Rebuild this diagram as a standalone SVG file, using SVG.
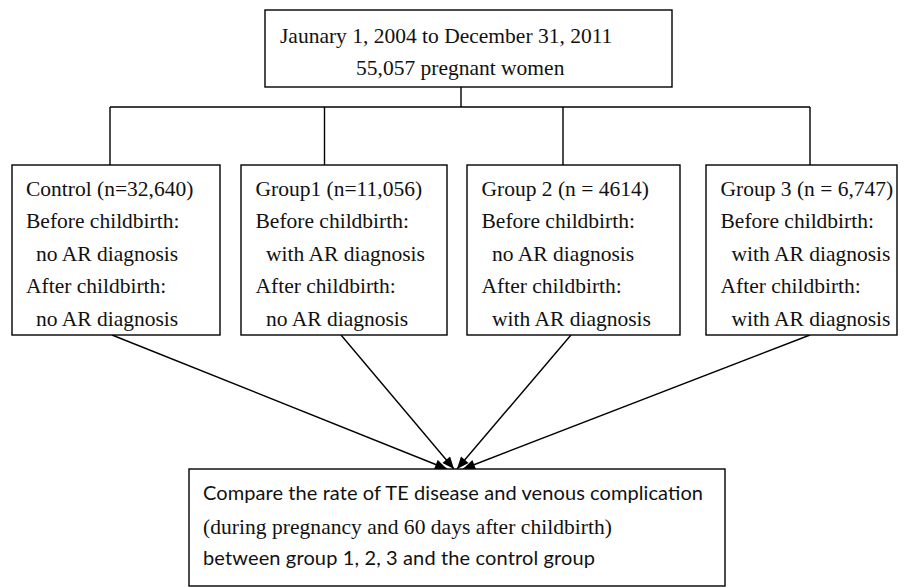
<svg xmlns="http://www.w3.org/2000/svg" width="907" height="587" viewBox="0 0 907 587">
<defs>
<style>
.box{fill:#fff;stroke:#000;stroke-width:1.4}
.ln{fill:none;stroke:#000;stroke-width:1.4}
.t{font-family:"Liberation Serif","Times New Roman",serif;font-size:21.5px;fill:#111}
.s{font-family:Lato,"Liberation Sans",sans-serif;font-size:20px;fill:#111}
</style>
<marker id="ah" viewBox="0 0 12 10" refX="12" refY="5" markerWidth="13" markerHeight="10" markerUnits="userSpaceOnUse" orient="auto">
<path d="M0,0 L12,5 L0,10 z" fill="#000"/>
</marker>
</defs>
<rect width="907" height="587" fill="#fff"/>
<g id="connectors">
<path class="ln" d="M461,87 V107 M110,107 H810 M110,107 V165 M324.5,107 V165 M563,107 V165 M810,107 V165"/>
<line class="ln" x1="112" y1="335" x2="447" y2="469" marker-end="url(#ah)"/>
<line class="ln" x1="341" y1="335" x2="454" y2="469" marker-end="url(#ah)"/>
<line class="ln" x1="571" y1="335" x2="457" y2="469" marker-end="url(#ah)"/>
<line class="ln" x1="810" y1="335" x2="463" y2="469" marker-end="url(#ah)"/>
</g>
<g id="top">
<rect class="box" x="265" y="10" width="407" height="77"/>
<text class="t" x="280" y="43">Jaunary 1, 2004 to December 31, 2011</text>
<text class="t" x="356" y="75">55,057 pregnant women</text>
</g>
<g id="control">
<rect class="box" x="12" y="165" width="208" height="170"/>
<text class="t" x="26" y="196">Control (n=32,640)</text>
<text class="t" x="26" y="228">Before childbirth:</text>
<text class="t" x="36" y="260.5">no AR diagnosis</text>
<text class="t" x="26" y="292.5">After childbirth:</text>
<text class="t" x="36" y="325.5">no AR diagnosis</text>
</g>
<g id="group1">
<rect class="box" x="241" y="165" width="206" height="170"/>
<text class="t" x="255.5" y="196">Group1 (n=11,056)</text>
<text class="t" x="255.5" y="228">Before childbirth:</text>
<text class="t" x="266" y="260.5">with AR diagnosis</text>
<text class="t" x="255.5" y="292.5">After childbirth:</text>
<text class="t" x="266" y="325.5">no AR diagnosis</text>
</g>
<g id="group2">
<rect class="box" x="467" y="165" width="213" height="170"/>
<text class="t" x="481.5" y="196">Group 2 (n = 4614)</text>
<text class="t" x="481.5" y="228">Before childbirth:</text>
<text class="t" x="492" y="260.5">no AR diagnosis</text>
<text class="t" x="481.5" y="292.5">After childbirth:</text>
<text class="t" x="492" y="325.5">with AR diagnosis</text>
</g>
<g id="group3">
<rect class="box" x="706" y="165" width="191" height="170"/>
<text class="t" x="720.5" y="196">Group 3 (n = 6,747)</text>
<text class="t" x="720.5" y="228">Before childbirth:</text>
<text class="t" x="731.5" y="260.5">with AR diagnosis</text>
<text class="t" x="720.5" y="292.5">After childbirth:</text>
<text class="t" x="731.5" y="325.5">with AR diagnosis</text>
</g>
<g id="compare">
<rect class="box" x="189" y="469" width="536" height="117"/>
<text class="s" x="203" y="500" textLength="500">Compare the rate of TE disease and venous complication</text>
<text class="t" x="203" y="534" textLength="409">(during pregnancy and 60 days after childbirth)</text>
<text class="s" x="203" y="565" textLength="392">between group 1, 2, 3 and the control group</text>
</g>
</svg>
